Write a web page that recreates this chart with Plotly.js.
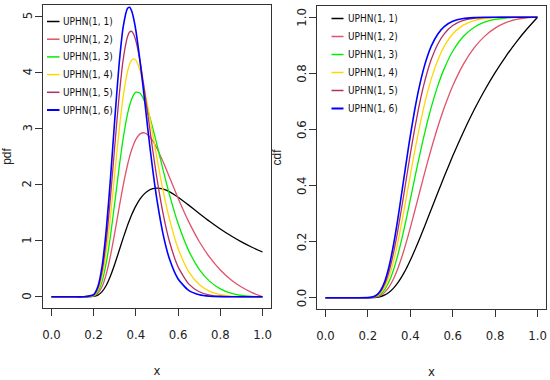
<!DOCTYPE html>
<html>
<head>
<meta charset="utf-8">
<script src="https://cdn.plot.ly/plotly-3.0.1.min.js"></script>
<style>html,body{margin:0;padding:0;background:#fff;}#chart{width:550px;height:380px;}</style>
</head>
<body>
<div id="chart"></div>
<script>
const xs = [0, 0.1, 0.15, 0.2, 0.22, 0.24, 0.26, 0.28, 0.30, 0.32, 0.34, 0.36, 0.37, 0.38, 0.39, 0.40, 0.42, 0.44, 0.46, 0.48, 0.50, 0.53, 0.56, 0.60, 0.65, 0.70, 0.75, 0.80, 0.85, 0.90, 0.95, 1.0];
const seriesNames = ["UPHN(1, 1)", "UPHN(1, 2)", "UPHN(1, 3)", "UPHN(1, 4)", "UPHN(1, 5)", "UPHN(1, 6)"];
const seriesColors = ["#000000", "#DF536B", "#00EE00", "#FFD700", "#B03060", "#0000FF"];

const pdf1 = [0,0,0,0.0067,0.0307,0.0921,0.2056,0.3731,0.5827,0.8149,1.0489,1.2678,1.3677,1.4599,1.5438,1.6190,1.7431,1.8335,1.8931,1.9258,1.9358,1.9170,1.8686,1.7747,1.6336,1.4855,1.3418,1.2083,1.0873,0.9790,0.8829,0.7979];
const pdf2 = [0,0,0,0.0134,0.0614,0.1838,0.4093,0.7386,1.1426,1.5750,1.9882,2.3443,2.4929,2.6197,2.7238,2.8052,2.9030,2.9222,2.8759,2.7783,2.6430,2.3955,2.1226,1.7570,1.3387,0.9856,0.7007,0.4771,0.3046,0.1732,0.0741,0];
const pdf3 = [0,0,0,0.0201,0.0921,0.2753,0.6113,1.0967,1.6802,2.2831,2.8266,3.2511,3.4080,3.5257,3.6044,3.6457,3.6261,3.4930,3.2766,3.0061,2.7066,2.2451,1.8083,1.3046,0.8228,0.4905,0.2745,0.1413,0.0640,0.0230,0.0047,0];
const pdf4 = [0,0,0,0.0268,0.1228,0.3665,0.8114,1.4474,2.1962,2.9419,3.5719,4.0078,4.1412,4.2178,4.2397,4.2114,4.0259,3.7113,3.3184,2.8912,2.4637,1.8704,1.3694,0.8610,0.4495,0.2170,0.0956,0.0372,0.0120,0.0027,0.0002,0];
const pdf5 = [0,0,0,0.0335,0.1535,0.4575,1.0098,1.7909,2.6914,3.5538,4.2317,4.6318,4.7178,4.7305,4.6754,4.5609,4.1905,3.6968,3.1506,2.6069,2.1024,1.4608,0.9722,0.5328,0.2302,0.0900,0.0312,0.0092,0.0021,0.0003,0,0];
const pdf6 = [0,0,0,0.0401,0.1841,0.5481,1.2064,2.1273,3.1662,4.1214,4.8127,5.1388,5.1596,5.0932,4.9495,4.7418,4.1874,3.5478,2.8717,2.2566,1.7223,1.0952,0.6626,0.3165,0.1132,0.0358,0.0098,0.0022,0.0003,0,0,0];

const cdf1 = [0,0,0,0.0001,0.0004,0.0015,0.0044,0.0101,0.0196,0.0336,0.0522,0.0754,0.0886,0.1028,0.1178,0.1336,0.1673,0.2031,0.2404,0.2787,0.3173,0.3752,0.4320,0.5050,0.5903,0.6682,0.7389,0.8026,0.8599,0.9115,0.9580,1];
const cdf2 = [0,0,0,0.0001,0.0008,0.0031,0.0088,0.0202,0.0389,0.0661,0.1017,0.1452,0.1694,0.1950,0.2217,0.2494,0.3066,0.3650,0.4231,0.4797,0.5339,0.6096,0.6774,0.7550,0.8321,0.8899,0.9318,0.9610,0.9804,0.9922,0.9982,1];
const cdf3 = [0,0,0,0.0002,0.0012,0.0046,0.0132,0.0301,0.0578,0.0974,0.1487,0.2097,0.2430,0.2777,0.3134,0.3497,0.4226,0.4940,0.5618,0.6247,0.6822,0.7561,0.8168,0.8787,0.9312,0.9635,0.9822,0.9923,0.9973,0.9993,0.9999,1];
const cdf4 = [0,0,0,0.0003,0.0016,0.0062,0.0176,0.0399,0.0763,0.1277,0.1931,0.2693,0.3100,0.3519,0.3943,0.4366,0.5192,0.5968,0.6671,0.7293,0.7828,0.8476,0.8959,0.9400,0.9718,0.9879,0.9954,0.9985,0.9996,0.9999,1,1];
const cdf5 = [0,0,0,0.0003,0.0020,0.0077,0.0219,0.0496,0.0944,0.1570,0.2353,0.3244,0.3712,0.4185,0.4657,0.5118,0.5996,0.6787,0.7472,0.8047,0.8517,0.9048,0.9409,0.9703,0.9885,0.9960,0.9988,0.9997,1,1,1,1];
const cdf6 = [0,0,0,0.0004,0.0023,0.0092,0.0263,0.0592,0.1122,0.1854,0.2752,0.3754,0.4270,0.4783,0.5286,0.5771,0.6666,0.7439,0.8080,0.8591,0.8988,0.9405,0.9664,0.9853,0.9953,0.9987,0.9997,0.9999,1,1,1,1];

const xTickVals = [0, 0.2, 0.4, 0.6, 0.8, 1.0];
const xTickText = ["0.0", "0.2", "0.4", "0.6", "0.8", "1.0"];
const pdfTickVals = [0, 1, 2, 3, 4, 5];
const pdfTickText = ["0", "1", "2", "3", "4", "5"];
const cdfTickVals = [0, 0.2, 0.4, 0.6, 0.8, 1.0];
const cdfTickText = ["0.0", "0.2", "0.4", "0.6", "0.8", "1.0"];

const pdfs = [pdf1, pdf2, pdf3, pdf4, pdf5, pdf6];
const cdfs = [cdf1, cdf2, cdf3, cdf4, cdf5, cdf6];

const FONT = "'Liberation Sans Narrow', 'Arial Narrow', 'DejaVu Sans Condensed', sans-serif";
const TFONT = "'Liberation Sans', Arial, sans-serif";
const traces = [];
for (let i = 0; i < 6; i++) {
  const w = i === 5 ? 1.6 : 1.3;
  traces.push({x: xs, y: pdfs[i], type: 'scatter', mode: 'lines', name: seriesNames[i],
    xaxis: 'x', yaxis: 'y', showlegend: false,
    line: {color: seriesColors[i], width: w, shape: 'spline', smoothing: 0.6}});
  traces.push({x: xs, y: cdfs[i], type: 'scatter', mode: 'lines', name: seriesNames[i],
    xaxis: 'x2', yaxis: 'y2', showlegend: false,
    line: {color: seriesColors[i], width: w, shape: 'spline', smoothing: 0.6}});
}

const axisCommon = {
  showline: true, mirror: true, linecolor: '#333', linewidth: 1,
  ticks: 'outside', ticklen: 7, tickwidth: 1, tickcolor: '#333',
  showgrid: false, zeroline: false, tickmode: 'array',
  tickfont: {family: FONT, size: 13, color: '#222'}
};

const shapes = [];
const annotations = [];
// legends (one per panel, drawn without a box as in the original)
const legL = {x0: 47, x1: 59.5, tx: 61, y0: 21.5, dy: 17.7};
const legR = {x0: 331.5, x1: 343.5, tx: 345.5, y0: 18.5, dy: 18};
[legL, legR].forEach(function (L) {
  for (let i = 0; i < 6; i++) {
    const py = L.y0 + L.dy * i;
    shapes.push({type: 'line', xref: 'paper', yref: 'paper',
      x0: L.x0 / 550, x1: L.x1 / 550, y0: 1 - py / 380, y1: 1 - py / 380,
      line: {color: seriesColors[i], width: i === 5 ? 2 : 1.5}});
    annotations.push({xref: 'paper', yref: 'paper', x: L.tx / 550, y: 1 - py / 380,
      xanchor: 'left', yanchor: 'middle', showarrow: false, text: seriesNames[i],
      font: {family: FONT, size: 10, color: '#111'}});
  }
});
// rotated y tick labels (R style), placed on the axis scale
[[pdfTickVals, pdfTickText, 'y', 27], [cdfTickVals, cdfTickText, 'y2', 301.5]].forEach(function (a) {
  a[0].forEach(function (v, j) {
    annotations.push({xref: 'paper', yref: a[2], x: a[3] / 550, y: v, text: a[1][j],
      textangle: -90, xanchor: 'center', yanchor: 'middle', showarrow: false,
      font: {family: FONT, size: 13, color: '#222'}});
  });
});

const layout = {
  width: 550, height: 380,
  margin: {l: 0, r: 0, t: 0, b: 0},
  paper_bgcolor: '#fff', plot_bgcolor: '#fff',
  showlegend: false,
  xaxis: Object.assign({}, axisCommon, {domain: [43/550, 271/550], range: [-0.04, 1.04],
    tickvals: xTickVals, ticktext: xTickText, ticklabelstandoff: 7,
    title: {text: 'x', standoff: 25, font: {family: FONT, size: 13, color: '#222'}}}),
  yaxis: Object.assign({}, axisCommon, {domain: [1 - 308/380, 1 - 5/380], range: [-0.2, 5.2],
    tickvals: pdfTickVals, ticktext: pdfTickText, showticklabels: false,
    title: {text: 'pdf', standoff: 24, font: {family: TFONT, size: 12, color: '#222'}}}),
  xaxis2: Object.assign({}, axisCommon, {domain: [317/550, 546/550], range: [-0.04, 1.04], anchor: 'y2',
    tickvals: xTickVals, ticktext: xTickText, ticklabelstandoff: 7,
    title: {text: 'x', standoff: 25, font: {family: FONT, size: 13, color: '#222'}}}),
  yaxis2: Object.assign({}, axisCommon, {domain: [1 - 309/380, 1 - 6/380], range: [-0.04, 1.04], anchor: 'x2',
    tickvals: cdfTickVals, ticktext: cdfTickText, showticklabels: false,
    title: {text: 'cdf', standoff: 24, font: {family: TFONT, size: 12, color: '#222'}}}),
  shapes: shapes,
  annotations: annotations
};

Plotly.newPlot('chart', traces, layout, {displayModeBar: false, staticPlot: true});
</script>
</body>
</html>
